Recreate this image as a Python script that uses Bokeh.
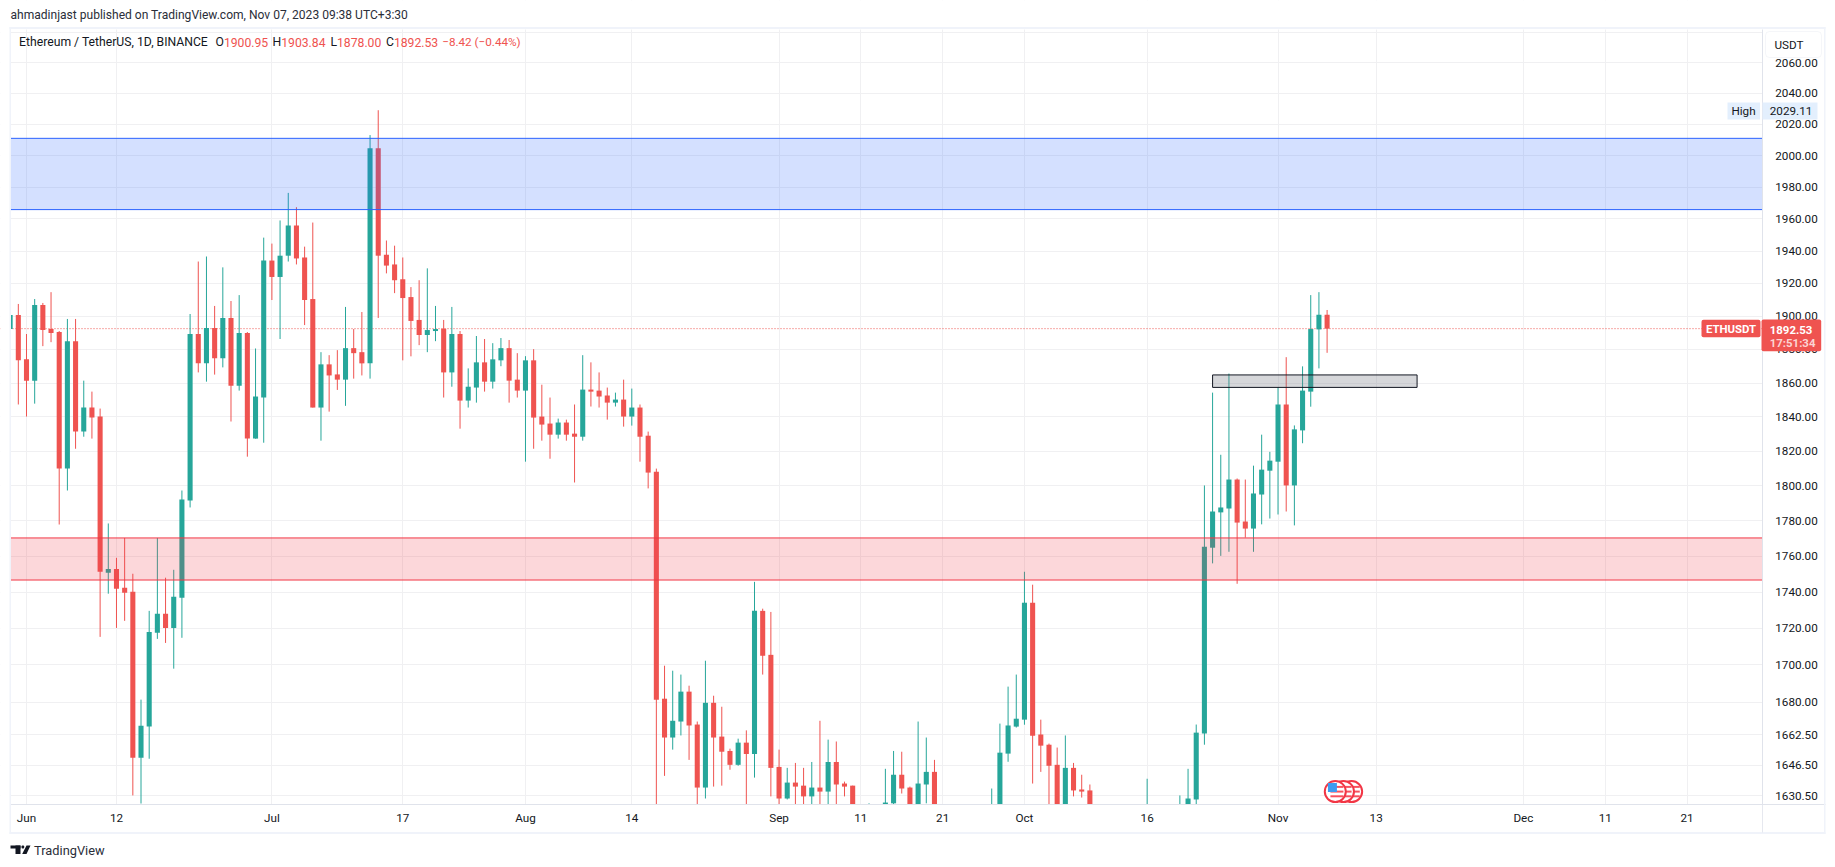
from bokeh.plotting import figure
from bokeh.embed import file_html
from bokeh.resources import INLINE
from bokeh.models import (ColumnDataSource, Range1d, FixedTicker, NumeralTickFormatter,
                          BoxAnnotation, Span, Label, PolyAnnotation)

# ---- data: daily candles, index 0 = 1 Jun 2023, index 159 = 7 Nov 2023
day_index = list(range(-2, 160))
open_ = [1892.3,1900.8,1874.1,1861.4,1906.9,1892.3,1890.5,1809.9,1885,1831.4,
 1845.5,1840.2,1750.7,1752.9,1742.4,1740.2,1650.4,1667,1717.5,1728,
 1720.2,1736.9,1791.6,1889.3,1871.7,1892.9,1874.7,1899,1858.4,1889.9,
 1827.3,1851.4,1934.1,1924,1937.1,1955.8,1936,1910.5,1845.5,1871.1,
 1865.1,1862,1880.8,1878.4,1871.7,2004.7,1937.7,1931.7,1922.6,1911.7,
 1897.8,1888.7,1891.1,1892.5,1866.3,1889.3,1849.6,1857.3,1872.3,1860.8,
 1873.5,1880.8,1862,1855.5,1873.5,1840.2,1836.1,1829.6,1836.7,1830.2,
 1828.4,1856.1,1855.5,1852.6,1848.4,1850.2,1840.2,1845.5,1829,1808.1,
 1681.8,1661.1,1669.6,1685.6,1668,1634.8,1679.6,1661.6,1654,1646.7,
 1658.4,1652.4,1729.6,1705.5,1645.6,1629.1,1637.4,1635.8,1630.2,1634.8,
 1632.7,1648.2,1636.9,1635.8,1605,1608,1618,1605,1626.6,1641.5,
 1634.8,1622,1636.4,1643,1620,1590,1600,1605,1595,1585,
 1600,1620,1652.6,1666.9,1670.6,1734.1,1662.7,1657.3,1646.7,1620,
 1645.1,1633.8,1633.3,1618,1600,1580,1590,1570,1575,1585,
 1605,1595,1605,1600,1615,1628.6,1663.2,1764.8,1784.8,1787,
 1803.6,1779.6,1775.6,1795,1808.7,1813.9,1847.3,1800.2,1832.1,1854.9,
 1892.1,1900.95]
high = [1917.2,1907.5,1889.3,1910.5,1908.1,1914.7,1891.1,1898.4,1898.4,1861.4,
 1854.9,1844.9,1778.5,1759.1,1770.3,1750.2,1681.3,1729.6,1770.3,1748,
 1752.4,1797.3,1901.4,1933.5,1936.6,1906.3,1929.9,1909.3,1912.9,1890.5,
 1880.6,1948.3,1944.6,1959,1976.3,1967.3,1942.7,1957.7,1878.4,1876.6,
 1879.6,1905.7,1892.3,1902.6,2013.1,2029.11,1946.5,1943.3,1936,1917.8,
 1922,1929.3,1906.3,1897.8,1905.7,1891.1,1868.7,1888.1,1886.3,1883.8,
 1886.9,1885.7,1877.8,1876,1880.2,1859,1851.4,1839,1838.4,1847.3,
 1876.6,1872.3,1866.3,1857.3,1854.3,1862,1856.7,1847.3,1831.4,1809.9,
 1699.6,1696.9,1694.8,1688.8,1669.6,1702.3,1683.4,1677.5,1655.2,1660.5,
 1664.9,1745.7,1730.8,1729,1654.7,1645.1,1647.7,1645.1,1648.2,1670,
 1660,1659,1637.9,1635.8,1620,1626.6,1624,1644.6,1654,1653.6,
 1635.3,1669.6,1661.1,1649.3,1624,1610,1615,1615,1605,1612,
 1634.3,1668.5,1688.3,1694.8,1751.3,1744.1,1670.6,1657.9,1655.8,1662.2,
 1647.7,1641.5,1636.4,1622,1612,1600,1605,1590,1590,1639.4,
 1615,1612,1618,1630.7,1644.6,1668,1800.2,1854.3,1817.9,1865.6,
 1804.2,1803.6,1811.6,1829.6,1819.6,1857.5,1875.4,1835,1869.9,1912.9,
 1914.7,1903.84]
low = [1881.6,1847.3,1840.2,1847.8,1882,1884.4,1777.9,1797.3,1821.4,1828.4,
 1827.3,1715.3,1739.1,1720.2,1724.1,1630.7,1626.5,1649.9,1714.2,1712,
 1698,1714.8,1787.6,1866.3,1860.8,1865,1869.3,1837.3,1855.5,1816.8,
 1827.3,1824.9,1909.9,1886.3,1933.5,1931.7,1894.7,1845.5,1826.1,1843.1,
 1855.9,1846.5,1862.6,1864.5,1862.6,1899,1926.2,1914.1,1873.5,1875.9,
 1882.6,1878.4,1885,1851.4,1857.8,1833.1,1845.5,1848.4,1854.9,1856.7,
 1870,1848.4,1851.4,1813.9,1821.4,1826.1,1815.6,1827.3,1826.1,1801.9,
 1826.1,1846.1,1845.5,1838.4,1846.1,1834.3,1834.9,1813.9,1798.5,1550,
 1640.9,1654.7,1662.2,1649.3,1620,1629.1,1635.3,1635.8,1644.1,1646.2,
 1620,1640,1694.8,1630.2,1622,1628.6,1620,1623,1622,1622,
 1622,1622,1630.2,1600,1595,1598,1595,1598,1626,1631.7,
 1615,1618,1626.6,1615,1580,1580,1590,1585,1570,1575,
 1590,1612,1648.3,1666.4,1667.9,1636.9,1643,1620,1612,1612,
 1630.2,1629.6,1610,1595,1575,1570,1565,1560,1565,1578,
 1590,1585,1590,1596,1610,1622,1657.3,1756,1760.2,1762.5,
 1744.6,1770.5,1762.5,1778,1781.3,1783.6,1785.3,1777.4,1824.6,1846,
 1868.7,1878]
close = [1900.8,1873.5,1861.4,1906.9,1891.7,1889.9,1809.9,1885,1831.4,1845.5,
 1839.6,1751.3,1752.9,1741.9,1739.6,1650.4,1667.4,1718,1728,1720.2,
 1737.4,1792.2,1889.3,1871.7,1892.9,1874.7,1899,1858.4,1889.9,1827.3,
 1852,1934.1,1924,1937.1,1955.8,1935.4,1909.9,1845.5,1871.1,1864.5,
 1862,1880.8,1877.8,1871.7,2004.7,1937.1,1931,1922,1911.1,1897.2,
 1888.7,1891.7,1892.3,1866.3,1889.3,1849.6,1857.8,1872.3,1860.8,1874.1,
 1880.8,1861.4,1855.5,1873.5,1839.6,1835.5,1829.6,1836.7,1829.6,1828.4,
 1856.1,1854.9,1852,1848.4,1850.2,1840.2,1845.5,1828.4,1807.6,1681.3,
 1661.1,1670,1685.6,1667.5,1634.8,1679.6,1661.1,1653.6,1646.7,1658.4,
 1652.4,1729.6,1705,1645.1,1629.1,1637.4,1635.3,1630.2,1634.8,1632.7,
 1648.2,1636.4,1635.3,1610,1612,1618,1605,1627,1641.5,1634.3,
 1620,1636.9,1643,1620,1590,1600,1605,1595,1585,1600,
 1620,1653.1,1667.5,1671.1,1734.1,1662.1,1656.8,1646.2,1620,1645.1,
 1633.3,1632.7,1618,1600,1580,1590,1570,1575,1585,1605,
 1595,1605,1600,1615,1629.1,1663.7,1765.3,1785.3,1787.6,1803.6,
 1779,1775.6,1795.6,1809.3,1814.5,1847.3,1800.2,1832.7,1855.5,1892.3,
 1900.95,1892.53]

x_tick_days = [0, 11, 30, 46, 61, 74, 92, 102, 112, 122, 137, 153, 165, 183, 193, 203]
x_tick_labels = ["Jun", "12", "Jul", "17", "Aug", "14", "Sep", "11", "21", "Oct", "16", "Nov", "13", "Dec", "11", "21"]
y_ticks = [1630.5, 1646.5, 1662.5, 1680, 1700, 1720, 1740, 1760, 1780, 1800, 1820, 1840, 1860,
           1880, 1900, 1920, 1940, 1960, 1980, 2000, 2020, 2040, 2060]
y_grid_extra = [2080]
blue_zone = (1965.8, 2011.0)
red_zone = (1746.7, 1770.3)
gray_zone = (145, 170, 1857.4, 1864.8)
last_price = 1892.53
event_days = [162, 161, 160]
event_price = 1632.7

UP = "#26a69a"
DOWN = "#ef5350"
INK = "#131722"
FONT = "Roboto"

# pane limits in data units (left, right of price pane; bottom, top of price pane)
PANE_L, PANE_R, PANE_B, PANE_T = -1.956, 212.2, 1626.0, 2082.0
FAR_L, FAR_R, FAR_B, FAR_T = -3.178, 220.54, 1597.2, 2101.4

colors = [UP if c >= o else DOWN for o, c in zip(open_, close)]
src = ColumnDataSource(dict(x=day_index, o=open_, h=high, l=low, c=close,
                            top=[max(a, b) for a, b in zip(open_, close)],
                            bottom=[min(a, b) for a, b in zip(open_, close)],
                            color=colors))

p = figure(width=1830, height=860, output_backend="svg", toolbar_location=None,
           x_range=Range1d(FAR_L, FAR_R), y_range=Range1d(FAR_B, FAR_T),
           y_axis_type="log", y_axis_location="right",
           min_border_left=0, min_border_right=0, min_border_top=0, min_border_bottom=0)
p.outline_line_color = None
p.background_fill_color = "white"

xa = p.xaxis[0]
xa.ticker = FixedTicker(ticks=x_tick_days, minor_ticks=[])
xa.major_label_overrides = dict(zip(x_tick_days, x_tick_labels))
xa.fixed_location = PANE_B
xa.bounds = (PANE_L, 219.9)
ya = p.yaxis[0]
ya.ticker = FixedTicker(ticks=y_ticks, minor_ticks=[])
ya.formatter = NumeralTickFormatter(format="0.00")
ya.fixed_location = PANE_R
ya.bounds = (PANE_B, PANE_T)
for ax in (xa, ya):
    ax.major_tick_line_color = None
    ax.minor_tick_line_color = None
    ax.axis_line_color = "#e0e3eb"
    ax.major_label_text_font = FONT
    ax.major_label_text_font_size = "11.7px"
    ax.major_label_text_color = INK
xa.major_label_standoff = 1
ya.major_label_standoff = 7

p.xgrid[0].ticker = FixedTicker(ticks=x_tick_days, minor_ticks=[])
p.ygrid[0].ticker = FixedTicker(ticks=y_ticks + y_grid_extra, minor_ticks=[])
for g in (p.xgrid[0], p.ygrid[0]):
    g.grid_line_color = "#f0f0f2"
    g.grid_line_width = 1

p.add_layout(Span(location=last_price, dimension="width", line_color=DOWN, line_width=1,
                  line_dash="1 2", level="underlay"))

p.segment("x", "h", "x", "l", source=src, color="color", line_width=1)
p.vbar("x", 0.62, "top", "bottom", source=src, fill_color="color", line_color=None)

# zones, over the candles
for (lo, hi), col in ((blue_zone, "#2962ff"), (red_zone, "#f23645")):
    p.quad(left=[PANE_L], right=[PANE_R], bottom=[lo], top=[hi], fill_color=col, fill_alpha=0.2, line_color=None)
    p.segment([PANE_L, PANE_L], [lo, hi], [PANE_R, PANE_R], [lo, hi], line_color=col, line_width=1)
p.quad(left=[gray_zone[0]], right=[gray_zone[1]], bottom=[gray_zone[2]], top=[gray_zone[3]],
       fill_color="#787b86", fill_alpha=0.3, line_color=INK, line_width=1)

# white masks around the price pane
p.quad(left=[FAR_L, PANE_R, PANE_L, PANE_L], right=[PANE_L, FAR_R, PANE_R, PANE_R],
       bottom=[FAR_B, FAR_B, FAR_B, PANE_T], top=[FAR_T, FAR_T, PANE_B, FAR_T],
       fill_color="white", line_color=None)

# economic-event flags
for d in event_days:
    p.scatter([d], [event_price], marker="circle", size=21, fill_color="white",
              line_color="#f23645", line_width=2)
    for f in (0.9985, 1.0, 1.0015):
        p.scatter([d + 0.2], [event_price * f], marker="dash", size=13, line_color="#f7525f", line_width=2)
p.scatter([event_days[-1] - 0.35], [event_price * 1.0013], marker="square", size=9,
          fill_color="#3d9bf0", line_color=None)


def box(l, t, r, b, color, line=None, alpha=1.0, radius=0):
    p.add_layout(BoxAnnotation(left=l, right=r, top=t, bottom=b,
                               left_units="canvas", right_units="canvas",
                               top_units="canvas", bottom_units="canvas",
                               fill_color=color, fill_alpha=alpha, line_color=line, line_width=1,
                               border_radius=radius))


def text(x, y, s, color=INK, size="11.7px", align="left", style="normal"):
    p.add_layout(Label(x=x, y=y, x_units="canvas", y_units="canvas", text=s, text_color=color,
                       text_font=FONT, text_font_size=size, text_align=align,
                       text_baseline="middle", text_font_style=style))


# outer chart frame
FRAME = "#f0f3fa"
box(9, 26.5, 1825, 28.5, FRAME)
box(9, 831.5, 1825, 833.5, FRAME)
box(9, 26.5, 10.5, 833.5, FRAME)
box(1823.5, 26.5, 1825, 833.5, FRAME)
box(1761.5, 804, 1762.3, 832, "#e0e3eb")

# header
text(10, 14.7, "ahmadinjast published on TradingView.com, Nov 07, 2023 09:38 UTC+3:30", color="#2a2e39", size="12.05px")
text(18.6, 41.7, "Ethereum / TetherUS, 1D, BINANCE", size="12.2px")
for x_, s in ((215, "O"), (272, "H"), (330, "L"), (385.5, "C")):
    text(x_, 41.7, s, size="12.2px")
for x_, s in ((223.4, "1900.95"), (280.7, "1903.84"), (336.5, "1878.00"), (393.4, "1892.53")):
    text(x_, 41.7, s, color=DOWN, size="12.2px")
text(441.7, 41.7, "−8.42 (−0.44%)", color=DOWN, size="11.7px")

# price-scale tags
box(1765, 31, 1821, 57, "white", line="#dfe2ea", radius=4)
text(1774, 44.5, "USDT", size="11.7px")
box(1727, 102, 1759.5, 119, "#e3effd")
text(1743, 110.5, "High", align="center")
box(1762, 102, 1817, 119, "#e3effd")
text(1769.3, 110.5, "2029.11")
box(1701, 319.3, 1760, 336.7, DOWN, radius=2)
text(1730.5, 328.5, "ETHUSDT", color="white", align="center", style="bold", size="11.4px")
box(1761, 319, 1820.7, 350.7, DOWN, radius=2)
text(1769.3, 329, "1892.53", color="white", style="bold", size="11.4px")
text(1769.3, 342, "17:51:34", color="#fbd4d3", style="bold", size="11.4px")

# footer logo + wordmark
LOGO = INK
box(10, 845, 20, 848, LOGO)
box(15, 845, 20, 853.5, LOGO)
p.add_layout(PolyAnnotation(xs=[26, 30, 26, 21.7], ys=[845, 845, 853.5, 853.5],
                            xs_units="canvas", ys_units="canvas", fill_color=LOGO, fill_alpha=1, line_color=None))
box(21, 845, 23.7, 848, LOGO, radius=1)
text(33.6, 849.7, "TradingView", color="#2a2e39", size="12.8px")

open("out.html", "w").write(file_html(p, INLINE))
